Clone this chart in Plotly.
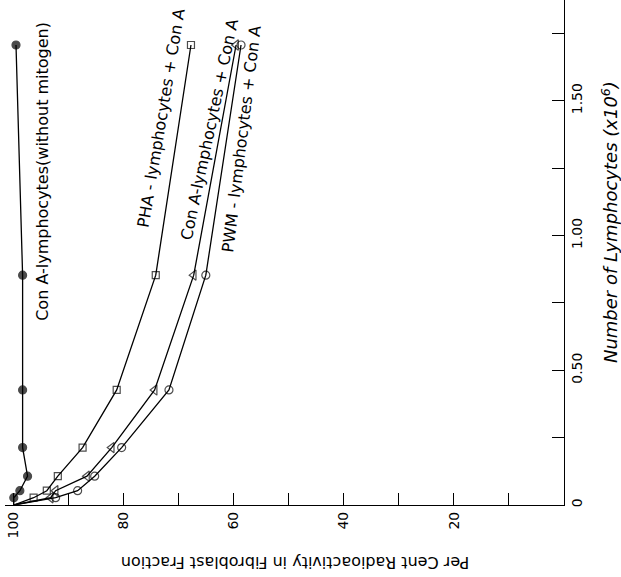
import plotly.graph_objects as go

# Number of lymphocytes (x10^6) – doubling dilutions, plus origin
lymph = [0.0, 0.027, 0.053, 0.107, 0.213, 0.427, 0.853, 1.707]

# Per cent radioactivity in fibroblast fraction
cona_nomit = [100.0, 100.0, 98.9, 97.5, 98.4, 98.4, 98.4, 99.6]
pha = [100.0, 96.4, 94.0, 92.0, 87.5, 81.3, 74.2, 67.8]
cona = [100.0, 93.3, 92.4, 86.7, 82.2, 74.4, 67.3, 59.6]
pwm = [100.0, 92.4, 88.4, 85.3, 80.4, 71.8, 65.1, 58.7]

pct_ticks = [100, 80, 60, 40, 20]
pct_text = ["100", "80", "60", "40", "20"]
pct_minor = [90, 70, 50, 30, 10]
lym_ticks = [0, 0.5, 1.0, 1.5]
lym_text = ["0", "0.50", "1.00", "1.50"]
lym_minor = [0.25, 0.75, 1.25, 1.75]

labels = [
    ("Con A-lymphocytes(without mitogen)", 94.7, 1.24, -90),
    ("PHA - lymphocytes + Con A", 73.3, 1.436, -80.5),
    ("Con A-lymphocytes + Con A", 64.5, 1.395, -78),
    ("PWM - lymphocytes + Con A", 58.7, 1.358, -83),
]

FONT = "DejaVu Sans"
fig = go.Figure()

series = [
    (cona_nomit, "circle", 8),
    (pha, "square-open", 7),
    (cona, "triangle-left-open", 9),
    (pwm, "circle-open", 8),
]
for vals, sym, sz in series:
    fig.add_trace(go.Scatter(
        x=vals, y=lymph, mode="lines+markers",
        line=dict(color="black", width=1.3),
        marker=dict(symbol=sym, size=[0] + [sz] * (len(vals) - 1), color="black",
                    line=dict(color="black", width=1.2)),
        showlegend=False, cliponaxis=False,
    ))

for txt, xv, yv, ang in labels:
    fig.add_annotation(x=xv, y=yv, xref="x", yref="y", text=txt, textangle=ang,
                       showarrow=False, xanchor="center", yanchor="middle",
                       font=dict(family=FONT, size=16, color="black"))

fig.add_annotation(x=0.519, y=-0.115, xref="paper", yref="paper",
                   text="Per Cent Radioactivity in Fibroblast Fraction", textangle=180,
                   showarrow=False, xanchor="center", yanchor="middle",
                   font=dict(family=FONT, size=16, color="black"))
fig.add_annotation(x=1.082, y=0.56, xref="paper", yref="paper",
                   text="<i>Number of Lymphocytes (x10<sup>6</sup>)</i>", textangle=-90,
                   showarrow=False, xanchor="center", yanchor="middle",
                   font=dict(family=FONT, size=18, color="black"))

tick_common = dict(ticks="inside", ticklen=12, tickcolor="black", tickwidth=1.2,
                   tickangle=-90, showline=True, linecolor="black", linewidth=1.3,
                   showgrid=False, zeroline=False, tickfont=dict(size=14))

fig.update_layout(
    width=621, height=577,
    margin=dict(l=5, r=57, t=0, b=72),
    paper_bgcolor="white", plot_bgcolor="white",
    font=dict(family=FONT, size=14, color="black"),
    xaxis=dict(range=[101.6, 0], tickvals=pct_ticks, ticktext=pct_text,
               minor=dict(tickvals=pct_minor, ticks="inside", ticklen=12,
                          tickcolor="black", tickwidth=1.2, showgrid=False),
               **tick_common),
    yaxis=dict(range=[0, 1.874], side="right", tickvals=lym_ticks, ticktext=lym_text,
               minor=dict(tickvals=lym_minor, ticks="inside", ticklen=12,
                          tickcolor="black", tickwidth=1.2, showgrid=False),
               **tick_common),
)

fig.write_html("out.html")
